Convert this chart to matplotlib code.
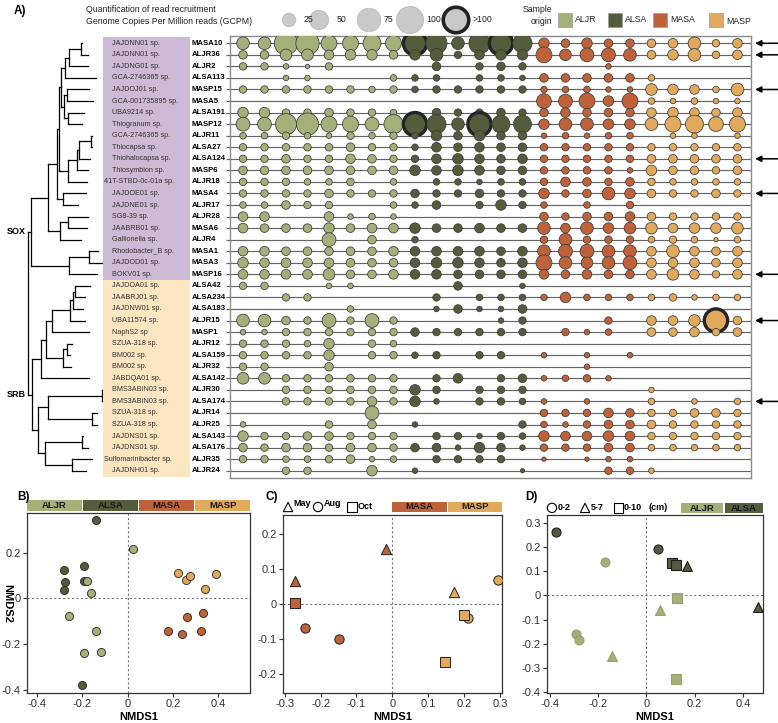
import numpy as np
import matplotlib
matplotlib.use("Agg")
import matplotlib.pyplot as plt
from matplotlib.patches import Rectangle
from matplotlib.transforms import blended_transform_factory

plt.rcParams["font.family"] = ["Liberation Sans", "DejaVu Sans"]
plt.rcParams["axes.unicode_minus"] = False

# ---------------- data ----------------
species = ["JAJDNN01 sp.", "JAJDNN01 sp.", "JAJDNG01 sp.", "GCA-2746365 sp.", "JAJDOJ01 sp.",
           "GCA-001735895 sp.", "UBA9214 sp.", "Thiogranum sp.", "GCA-2746365 sp.", "Thiocapsa sp.",
           "Thiohalocapsa sp.", "Thiosymbion sp.", "41T-STBD-0c-01a sp.", "JAJDOE01 sp.", "JAJDNE01 sp.",
           "SG8-39 sp.", "JAABRB01 sp.", "Gallionella sp.", "Rhodobacter_B sp.", "JAJDOD01 sp.",
           "BOKV01 sp.",
           "JAJDOA01 sp.", "JAABRJ01 sp.", "JAJDNW01 sp.", "UBA11574 sp.", "NaphS2 sp",
           "SZUA-318 sp.", "BM002 sp.", "BM002 sp.", "JABDQA01 sp.", "BMS3ABIN03 sp.",
           "BMS3ABIN03 sp.", "SZUA-318 sp.", "SZUA-318 sp.", "JAJDNS01 sp.", "JAJDNS01 sp.",
           "Sulfomarinibacter sp.", "JAJDNH01 sp."]
mags = ["MASA10", "ALJR36", "ALJR2", "ALSA113", "MASP15", "MASA5", "ALSA191", "MASP12", "ALJR11",
        "ALSA27", "ALSA124", "MASP6", "ALJR18", "MASA4", "ALJR17", "ALJR28", "MASA6", "ALJR4",
        "MASA1", "MASA3", "MASP16",
        "ALSA42", "ALSA234", "ALSA183", "ALJR15", "MASP1", "ALJR12", "ALSA159", "ALJR32",
        "ALSA142", "ALJR30", "ALSA174", "ALJR14", "ALJR25", "ALSA143", "ALSA176", "ALJR35", "ALJR24"]
n_sox = 21
arrow_mags = ["MASA10", "ALJR36", "MASP15", "ALSA124", "MASA4", "MASP16", "ALJR15", "ALSA174"]

# GCPM per MAG (rows) and sample (columns); 130 stands for >100
gcpm_aljr = [
    [26, 26, 88, 88, 41, 41, 52, 41], [12, 12, 22, 22, 15, 18, 18, 12], [9, 9, 5, 3, 9, 0, 0, 0],
    [0, 0, 5, 5, 0, 0, 0, 7], [9, 9, 9, 9, 9, 9, 7, 9], [0, 0, 0, 0, 0, 0, 0, 0],
    [18, 18, 9, 9, 12, 9, 9, 7], [31, 31, 72, 80, 41, 41, 31, 59], [7, 7, 9, 7, 5, 9, 7, 9],
    [9, 9, 9, 9, 9, 12, 9, 9], [9, 9, 12, 9, 9, 15, 12, 9], [12, 12, 12, 12, 12, 12, 12, 12],
    [9, 9, 9, 7, 7, 9, 0, 7], [9, 9, 9, 9, 12, 9, 9, 9], [7, 7, 12, 9, 9, 0, 0, 7],
    [15, 15, 0, 0, 15, 5, 7, 5], [15, 12, 12, 12, 18, 12, 15, 15], [0, 0, 0, 0, 31, 0, 12, 0],
    [15, 15, 12, 12, 12, 12, 12, 15], [18, 15, 15, 15, 15, 12, 12, 12], [15, 15, 15, 15, 22, 12, 12, 15],
    [9, 9, 0, 0, 5, 5, 0, 0], [0, 0, 9, 9, 0, 0, 0, 0], [0, 0, 0, 0, 0, 7, 0, 0],
    [26, 26, 12, 9, 31, 9, 31, 9], [5, 5, 9, 9, 9, 9, 9, 9], [9, 9, 9, 7, 18, 0, 9, 7],
    [9, 9, 9, 9, 18, 0, 9, 9], [9, 9, 0, 0, 12, 0, 0, 0], [22, 22, 9, 9, 9, 9, 9, 9],
    [0, 0, 9, 9, 9, 9, 9, 9], [0, 0, 9, 9, 9, 9, 15, 9], [0, 0, 0, 0, 0, 0, 31, 0],
    [5, 0, 0, 0, 9, 0, 12, 0], [18, 9, 9, 12, 12, 9, 9, 9], [12, 9, 12, 12, 9, 12, 12, 9],
    [9, 9, 7, 7, 9, 12, 5, 7], [0, 0, 9, 9, 0, 0, 18, 0]]
gcpm_alsa = [
    [130, 72, 26, 72, 130, 59], [18, 26, 9, 15, 18, 18], [0, 12, 0, 9, 12, 9], [7, 7, 0, 7, 7, 5],
    [7, 9, 9, 9, 9, 9], [0, 0, 0, 0, 0, 0], [0, 12, 9, 9, 12, 9], [130, 59, 26, 130, 52, 52],
    [7, 18, 12, 18, 12, 12], [7, 15, 12, 15, 12, 12], [9, 15, 18, 15, 12, 15], [18, 15, 18, 15, 12, 12],
    [0, 7, 7, 5, 7, 7], [12, 9, 9, 12, 9, 9], [7, 12, 0, 9, 18, 9], [0, 0, 0, 0, 0, 0],
    [18, 12, 12, 15, 12, 12], [7, 0, 0, 0, 0, 0], [15, 15, 15, 15, 12, 15], [15, 18, 18, 15, 12, 15],
    [15, 15, 12, 12, 12, 12], [0, 0, 12, 0, 0, 5], [0, 9, 0, 7, 7, 7], [0, 5, 12, 5, 5, 12],
    [0, 0, 0, 0, 5, 9], [12, 9, 9, 9, 9, 9], [0, 0, 0, 0, 0, 0], [7, 9, 0, 9, 9, 0],
    [0, 0, 0, 0, 0, 0], [0, 9, 15, 0, 9, 12], [18, 9, 0, 9, 9, 9], [18, 5, 0, 9, 9, 7],
    [0, 0, 0, 0, 0, 0], [5, 0, 0, 0, 0, 9], [0, 9, 9, 5, 9, 7], [12, 12, 5, 18, 12, 5],
    [0, 9, 9, 9, 9, 0], [5, 0, 0, 0, 0, 3]]
gcpm_masa = [
    [18, 12, 18, 12, 12], [41, 22, 31, 31, 26], [0, 0, 0, 5, 0], [12, 12, 12, 12, 12],
    [7, 7, 7, 5, 5], [35, 31, 41, 18, 41], [12, 15, 12, 12, 12], [18, 26, 26, 18, 18],
    [5, 7, 5, 7, 7], [9, 9, 9, 9, 9], [9, 9, 9, 9, 9], [9, 9, 9, 9, 5],
    [9, 15, 12, 9, 12], [18, 9, 12, 26, 18], [7, 0, 7, 0, 9], [12, 9, 12, 12, 15],
    [26, 15, 26, 18, 22], [9, 26, 9, 9, 9], [26, 31, 31, 26, 26], [41, 26, 22, 26, 31],
    [15, 12, 15, 12, 12], [0, 0, 0, 0, 0], [7, 18, 7, 7, 7], [0, 0, 0, 0, 0],
    [0, 0, 0, 9, 0], [0, 9, 5, 7, 0], [0, 0, 0, 0, 0], [5, 0, 5, 0, 5],
    [0, 0, 5, 0, 0], [5, 7, 9, 5, 0], [0, 0, 0, 0, 0], [5, 0, 5, 0, 0],
    [9, 9, 9, 15, 12], [7, 5, 9, 12, 12], [18, 15, 15, 18, 15], [9, 9, 9, 12, 12],
    [3, 0, 3, 5, 5], [0, 0, 0, 9, 9]]
gcpm_masp = [
    [12, 15, 26, 9, 15], [12, 18, 26, 9, 15], [0, 0, 0, 0, 0], [7, 0, 0, 0, 0],
    [22, 18, 15, 7, 26], [7, 5, 7, 5, 5], [15, 18, 15, 12, 15], [26, 41, 52, 35, 41],
    [0, 5, 5, 0, 5], [9, 9, 9, 9, 9], [12, 12, 12, 12, 12], [18, 12, 12, 9, 12],
    [9, 7, 7, 7, 7], [12, 9, 9, 12, 9], [0, 0, 0, 0, 0], [12, 9, 9, 9, 9],
    [22, 15, 18, 18, 22], [7, 9, 7, 3, 7], [15, 26, 15, 12, 15], [15, 15, 15, 12, 15],
    [15, 22, 15, 9, 15], [0, 0, 0, 0, 0], [7, 9, 5, 7, 7], [0, 0, 0, 0, 0],
    [15, 15, 22, 130, 12], [12, 12, 15, 9, 12], [0, 0, 0, 0, 0], [0, 0, 0, 0, 0],
    [0, 0, 0, 0, 0], [0, 0, 0, 0, 0], [5, 0, 0, 0, 0], [7, 0, 5, 0, 7],
    [9, 9, 12, 12, 9], [12, 9, 9, 9, 9], [9, 9, 9, 9, 9], [7, 7, 7, 7, 7],
    [0, 0, 0, 0, 0], [5, 0, 0, 0, 0]]

# phylogeny: (node depth, children); ints are row indices
tip_depth = [82, 88, 88, 96, 89, 93, 84, 82, 92, 92, 90, 88, 87, 86, 78, 88, 87, 81, 98, 103, 97,
             90, 85, 83, 85, 89, 72, 70, 71, 89, 103, 103, 97, 97, 83, 88, 92, 86]
tree = (28, [
    (31, [
        (48, [
            (57, [
                (59, [
                    (61, [(65, [(69, [(81, [0, 1]), 2]), 3]),
                          (64, [(67, [4, 5]), (68, [6, 7])])]),
                    (68, [(77, [(79, [(91, [8, 9]), 10]), 11]), 12]),
                ]),
                (63, [13, 14]),
            ]),
            (60, [(68, [15, 16]), 17]),
        ]),
        (69, [(89, [18, 19]), 20]),
    ]),
    (32, [
        (41, [(46, [(52, [(70, [(73, [(75, [21, 22]), 23]), 24]), 25]),
                    (63, [(67, [26, 27]), 28])]),
              29]),
        (38, [(48, [(102, [30, 31]), (92, [32, 33])]),
              (45, [(82, [34, 35]), (72, [36, 37])])]),
    ]),
])
clade_names = ["SOX", "SRB"]

groups = ["ALJR", "ALSA", "MASA", "MASP"]
group_colors = {"ALJR": "#A4B07A", "ALSA": "#535D3C", "MASA": "#BF6239", "MASP": "#E1A95B"}

# NMDS panel B (all samples)
b_aljr_x = [0.025, -0.179, -0.161, -0.26, -0.139, -0.194, -0.116]
b_aljr_y = [0.216, 0.076, 0.026, -0.079, -0.145, -0.238, -0.236]
b_alsa_x = [-0.139, -0.283, -0.191, -0.276, -0.279, -0.191, -0.201]
b_alsa_y = [0.346, 0.124, 0.142, 0.070, 0.039, 0.077, -0.382]
b_masa_x = [0.333, 0.263, 0.179, 0.238, 0.321]
b_masa_y = [-0.066, -0.080, -0.142, -0.158, -0.142]
b_masp_x = [0.220, 0.258, 0.274, 0.388, 0.341]
b_masp_y = [0.112, 0.080, 0.099, 0.107, 0.042]

# NMDS panel C (MASA / MASP by month)
c_masa_month = ["May", "May", "Oct", "Aug", "Aug"]
c_masa_x = [-0.017, -0.271, -0.271, -0.244, -0.150]
c_masa_y = [0.157, 0.067, 0.002, -0.070, -0.100]
c_masp_month = ["Aug", "May", "Aug", "Oct", "Oct"]
c_masp_x = [0.294, 0.171, 0.210, 0.199, 0.146]
c_masp_y = [0.069, 0.033, -0.041, -0.031, -0.165]

# NMDS panel D (ALJR / ALSA by depth)
d_alsa_depth = ["0-2", "0-2", "0-10", "0-10", "5-7", "5-7"]
d_alsa_x = [-0.372, 0.047, 0.106, 0.124, 0.168, 0.463]
d_alsa_y = [0.262, 0.193, 0.132, 0.125, 0.121, -0.047]
d_aljr_depth = ["0-2", "0-10", "5-7", "0-2", "0-2", "5-7", "0-10"]
d_aljr_x = [-0.172, 0.128, 0.058, -0.291, -0.280, -0.141, 0.121]
d_aljr_y = [0.137, -0.012, -0.060, -0.158, -0.184, -0.250, -0.346]

legend_values = [25, 50, 75, 100, 130]
legend_labels = ["25", "50", "75", "100", ">100"]

# ---------------- figure ----------------
W, H = 778, 723
fig = plt.figure(figsize=(W / 100, H / 100), dpi=100)


def box(x0, y0, x1, y1):
    return [x0 / W, 1 - y1 / H, (x1 - x0) / W, (y1 - y0) / H]


def bubble_size(v):
    v = np.asarray(v, dtype=float)
    return 3.2 * np.where(v > 100, 88, v)


nrow = len(mags)
ylim = (nrow - 1 + 0.63, -0.63)

# ---- panel A: bubble matrix ----
ax = fig.add_axes(box(230, 36, 751, 478))
ax.set_xlim(-0.605, 23.63)
ax.set_ylim(*ylim)
ax.set_xticks([])
ax.set_yticks([])
for sp in ax.spines.values():
    sp.set_color("#8a8a8a")
    sp.set_linewidth(1)
ax.hlines(range(nrow), -0.79, 23.63, color="#666666", lw=0.85, zorder=1, clip_on=False)

off = 0
for g, arr in zip(groups, [gcpm_aljr, gcpm_alsa, gcpm_masa, gcpm_masp]):
    vals = np.array(arr, dtype=float)
    r, c = np.nonzero(vals)
    v = vals[r, c]
    big = v > 100
    ax.scatter(c + off, r, s=bubble_size(v), color=group_colors[g],
               edgecolors=np.where(big, "#252525", "#3c3c3c"),
               linewidths=np.where(big, 2.4, 0.55), zorder=3)
    off += vals.shape[1]

for m in arrow_mags:
    i = mags.index(m)
    ax.annotate("", xy=(23.82, i), xytext=(24.9, i), annotation_clip=False,
                arrowprops=dict(arrowstyle="-|>", color="k", lw=1.1, mutation_scale=9,
                                shrinkA=0, shrinkB=0))

tr = blended_transform_factory(fig.transFigure, ax.transData)
ax.add_patch(Rectangle((103 / W, -0.57), 87 / W, n_sox - 0.5 + 0.57, transform=tr,
                       facecolor="#CDBAD6", edgecolor="none", clip_on=False, zorder=0))
ax.add_patch(Rectangle((103 / W, n_sox - 0.5), 87 / W, nrow - n_sox + 0.05, transform=tr,
                       facecolor="#FCE6C1", edgecolor="none", clip_on=False, zorder=0))
for i, (sp_name, m) in enumerate(zip(species, mags)):
    x = 104 if len(sp_name) > 18 else 112
    ax.text(x / W, i, sp_name, transform=tr, ha="left", va="center", fontsize=5.2, color="#333333")
    ax.text(192 / W, i, m, transform=tr, ha="left", va="center", fontsize=5.6,
            fontweight="bold", color="k")

# ---- tree ----
tax = fig.add_axes(box(0, 36, 103, 478))
tax.set_xlim(0, 103)
tax.set_ylim(*ylim)
tax.axis("off")
tree_kw = dict(color="k", lw=0.9, solid_capstyle="projecting")


def draw(node):
    if isinstance(node, int):
        return node, tip_depth[node]
    d, kids = node
    ys = []
    for k in kids:
        y, kd = draw(k)
        tax.plot([d, kd], [y, y], **tree_kw)
        ys.append(y)
    tax.plot([d, d], [min(ys), max(ys)], **tree_kw)
    return (min(ys) + max(ys)) / 2, d


root_d, clades = tree
ys = []
for name, clade in zip(clade_names, clades):
    y, d = draw(clade)
    tax.plot([root_d, d], [y, y], **tree_kw)
    tax.text(root_d - 2, y, name, ha="right", va="center", fontsize=6.5, fontweight="bold")
    ys.append(y)
tax.plot([root_d, root_d], ys, **tree_kw)

# ---- top legend ----
lax = fig.add_axes([0, 1 - 36 / H, 1, 36 / H])
lax.set_xlim(0, W)
lax.set_ylim(36, 0)
lax.axis("off")
lax.text(14, 11, "A)", fontsize=8.5, fontweight="bold", va="center")
lax.text(86, 10, "Quantification of read recruitment", fontsize=6.3, va="center", color="#222222")
lax.text(86, 22, "Genome Copies Per Million reads (GCPM)", fontsize=6.3, va="center", color="#222222")
leg_x = [289, 319, 369, 410, 456]
leg_tx = [304, 337, 384, 426, 473]
lv = np.array(legend_values)
lax.scatter(leg_x, [20] * 5, s=bubble_size(lv) * 1.2, color="#c9c9c9",
            edgecolors=np.where(lv > 100, "#222222", "#b5b5b5"),
            linewidths=np.where(lv > 100, 2.6, 0.5), clip_on=False)
for x, t in zip(leg_tx, legend_labels):
    lax.text(x, 20, t, fontsize=6.3, va="center", color="#222222")
lax.text(552, 10, "Sample", fontsize=6.3, ha="right", va="center", color="#222222")
lax.text(552, 22, "origin", fontsize=6.3, ha="right", va="center", color="#222222")
for g, x in zip(groups, [565, 615, 660, 716]):
    lax.scatter([x], [20], marker="s", s=100, color=group_colors[g], edgecolors="#9a9a9a",
                linewidths=0.5, clip_on=False)
    lax.text(x + 10, 22 if g == "MASP" else 20, g, fontsize=6.3, va="center", color="#222222")


# ---- NMDS panels ----
def style_nmds(a, xt, yt):
    a.set_xticks(xt)
    a.set_yticks(yt)
    a.set_xticklabels([f"{v:g}" for v in xt])
    a.set_yticklabels([f"{v:g}" for v in yt])
    a.tick_params(labelsize=8, length=3, width=0.8, colors="#333333", pad=1.5)
    for sp in a.spines.values():
        sp.set_color("#333333")
        sp.set_linewidth(0.9)
    a.axhline(0, color="#777777", lw=0.8, ls=(0, (2, 2)), zorder=0)
    a.axvline(0, color="#777777", lw=0.8, ls=(0, (2, 2)), zorder=0)
    a.set_xlabel("NMDS1", fontsize=8, fontweight="bold", labelpad=2)


def header(a, segs, y0, y1):
    for name, x0, x1 in segs:
        a.add_patch(Rectangle((x0, y0), x1 - x0, y1 - y0, transform=a.transAxes,
                              facecolor=group_colors[name], edgecolor="none", clip_on=False))
        a.text((x0 + x1) / 2, (y0 + y1) / 2, name, transform=a.transAxes, ha="center",
               va="center", fontsize=6.8, fontweight="bold", color="#1a1a1a")


# B
bax = fig.add_axes(box(27, 513, 250, 693))
bax.set_xlim(-0.444, 0.539)
bax.set_ylim(-0.415, 0.375)
style_nmds(bax, [-0.4, -0.2, 0, 0.2, 0.4], [-0.4, -0.2, 0, 0.2])
for g, xs, ys_ in [("ALSA", b_alsa_x, b_alsa_y), ("ALJR", b_aljr_x, b_aljr_y),
                   ("MASP", b_masp_x, b_masp_y), ("MASA", b_masa_x, b_masa_y)]:
    bax.scatter(xs, ys_, s=34, color=group_colors[g], edgecolors="#222222", linewidths=0.6, zorder=3)
header(bax, [("ALJR", 0.0, 0.245), ("ALSA", 0.252, 0.497), ("MASA", 0.503, 0.748),
             ("MASP", 0.755, 1.0)], 1.011, 1.072)
fig.text(7 / W, 1 - 603 / H, "NMDS2", rotation=270, ha="center", va="center",
         fontsize=8, fontweight="bold")
fig.text(17 / W, 1 - 497 / H, "B)", fontsize=8.5, fontweight="bold", va="center")

# C
month_marker = {"May": "^", "Aug": "o", "Oct": "s"}
cax = fig.add_axes(box(283, 515, 502, 693))
cax.set_xlim(-0.305, 0.306)
cax.set_ylim(-0.255, 0.255)
style_nmds(cax, [-0.3, -0.2, -0.1, 0, 0.1, 0.2, 0.3], [-0.2, -0.1, 0, 0.1, 0.2])
for g, months, xs, ys_ in [("MASA", c_masa_month, c_masa_x, c_masa_y),
                           ("MASP", c_masp_month, c_masp_x, c_masp_y)]:
    for mo, x, y in zip(months, xs, ys_):
        cax.scatter([x], [y], marker=month_marker[mo], s=55 if mo == "May" else 45,
                    color=group_colors[g], edgecolors="#222222", linewidths=0.7, zorder=3)
header(cax, [("MASA", 0.498, 0.749), ("MASP", 0.753, 1.0)], 1.017, 1.073)
for mk, x, t, ty in [("^", 0.023, "May", 1.062), ("o", 0.16, "Aug", 1.062), ("s", 0.315, "Oct", 1.045)]:
    cax.scatter([x], [1.045], marker=mk, s=45, facecolors="none", edgecolors="k",
                linewidths=0.8, transform=cax.transAxes, clip_on=False)
    cax.text(x + 0.025, ty, t, transform=cax.transAxes, fontsize=6.5, fontweight="bold",
             va="center", ha="left")
fig.text(265 / W, 1 - 497 / H, "C)", fontsize=8.5, fontweight="bold", va="center")

# D
depth_marker = {"0-2": "o", "5-7": "^", "0-10": "s"}
dax = fig.add_axes(box(547, 515, 763, 693))
dax.set_xlim(-0.411, 0.483)
dax.set_ylim(-0.403, 0.332)
style_nmds(dax, [-0.4, -0.2, 0, 0.2, 0.4], [-0.4, -0.3, -0.2, -0.1, 0, 0.1, 0.2, 0.3])
for g, depths, xs, ys_, ec in [("ALJR", d_aljr_depth, d_aljr_x, d_aljr_y, "#95a46b"),
                               ("ALSA", d_alsa_depth, d_alsa_x, d_alsa_y, "#1e1e1e")]:
    for dp, x, y in zip(depths, xs, ys_):
        dax.scatter([x], [y], marker=depth_marker[dp], s=50 if dp == "5-7" else 42,
                    color=group_colors[g], edgecolors=ec, linewidths=0.8, zorder=3)
header(dax, [("ALJR", 0.62, 0.815), ("ALSA", 0.825, 1.0)], 1.011, 1.067)
for mk, x, t in [("o", 0.023, "0-2"), ("^", 0.176, "5-7"), ("s", 0.33, "0-10")]:
    dax.scatter([x], [1.04], marker=mk, s=45, facecolors="none", edgecolors="k",
                linewidths=0.8, transform=dax.transAxes, clip_on=False)
    dax.text(x + 0.027, 1.04, t, transform=dax.transAxes, fontsize=6.5, fontweight="bold",
             va="center", ha="left")
dax.text(0.47, 1.04, "(cm)", transform=dax.transAxes, fontsize=6.5, fontweight="bold",
         va="center", ha="left")
fig.text(525 / W, 1 - 497 / H, "D)", fontsize=8.5, fontweight="bold", va="center")

fig.savefig("out.png", dpi=100)
